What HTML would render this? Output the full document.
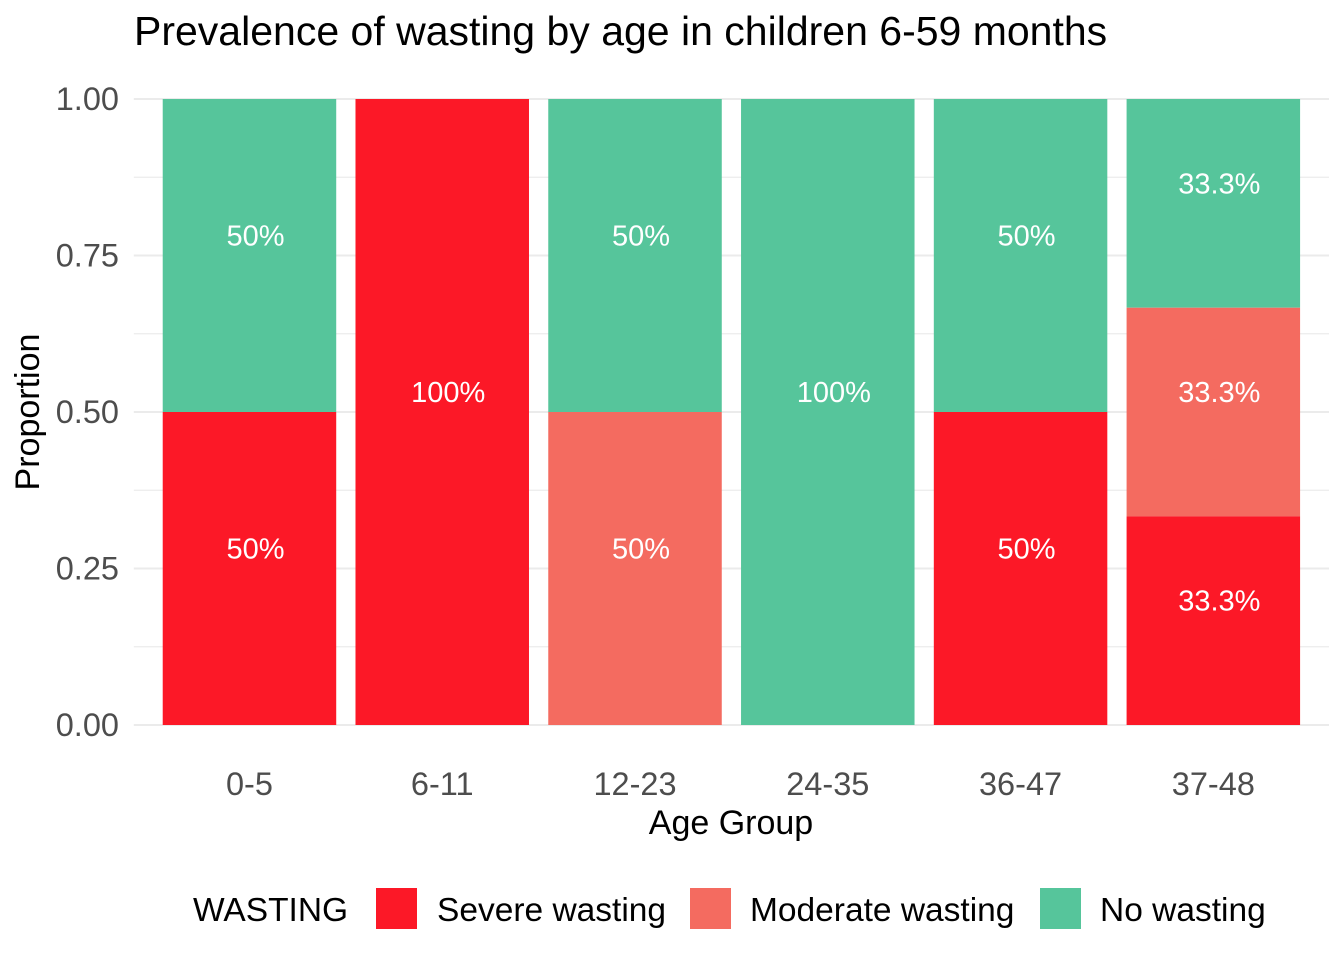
<!DOCTYPE html>
<html><head><meta charset="utf-8"><style>
body{margin:0;background:#fff;}
svg{display:block;font-family:"Liberation Sans",Arial,sans-serif;}
</style></head><body>
<svg id="chart" width="1344" height="960" viewBox="0 0 1344 960">
<text x="134" y="45" font-size="41" fill="#000">Prevalence of wasting by age in children 6-59 months</text>
<g id="grid"></g>
<g id="bars"></g>
<g id="labels"></g>
<g id="axes"></g>
<text x="731" y="834" font-size="34" text-anchor="middle" fill="#000">Age Group</text>
<text transform="translate(39,412) rotate(-90)" font-size="34" text-anchor="middle" fill="#000">Proportion</text>
<g>
<text x="193" y="921" font-size="33.5" fill="#000">WASTING</text>
<rect x="376" y="888" width="41" height="41" fill="#FC1827"/>
<text x="437" y="921" font-size="33.5" fill="#000">Severe wasting</text>
<rect x="690" y="888" width="41" height="41" fill="#F46B60"/>
<text x="750" y="921" font-size="33.5" fill="#000">Moderate wasting</text>
<rect x="1040" y="888" width="41" height="41" fill="#56C59B"/>
<text x="1100" y="921" font-size="33.5" fill="#000">No wasting</text>
</g>
</svg>
<script>
const categories=["0-5","6-11","12-23","24-35","36-47","37-48"];
const severe=[0.5,1,0,0,0.5,0.3333];
const moderate=[0,0,0.5,0,0,0.3333];
const none=[0.5,0,0.5,1,0.5,0.3334];
const yTicks=[0,0.25,0.5,0.75,1];
const yTickLabels=["0.00","0.25","0.50","0.75","1.00"];
const NS="http://www.w3.org/2000/svg";
const left=133.8,right=1329,y0=725,y1=99;
const step=(right-left)/(categories.length+0.2);
const xc=i=>left+step*(0.6+i);
const ys=v=>y0-(y0-y1)*v;
function mk(tag,attrs,parent){const e=document.createElementNS(NS,tag);for(const k in attrs)e.setAttribute(k,attrs[k]);parent.appendChild(e);return e;}
const grid=document.getElementById('grid'),bars=document.getElementById('bars'),labels=document.getElementById('labels'),axes=document.getElementById('axes');
for(let v=0;v<=1.0001;v+=0.125){
  const major=Math.abs(v*4-Math.round(v*4))<1e-6;
  const l=mk('line',{x1:left,x2:right,y1:ys(v),y2:ys(v),stroke:'#EBEBEB','stroke-width':major?2:1.2},grid);
  
  
}
yTicks.forEach((v,i)=>{
  const t=mk('text',{x:119,y:ys(v)+11,'font-size':32.5,'text-anchor':'end',fill:'#4D4D4D'},axes);
  t.textContent=yTickLabels[i];
  
  
});
const series=[[severe,'#FC1827','severe'],[moderate,'#F46B60','moderate'],[none,'#56C59B','none']];
const bw=step*0.9;
categories.forEach((c,i)=>{
  let top=1;
  const order=[series[2],series[1],series[0]];
  order.forEach(([arr,col,nm])=>{
    const v=arr[i];if(v<=0)return;
    const a=top,b=top-v;top=b;
    const r=mk('rect',{x:xc(i)-bw/2,y:ys(a),width:bw,height:ys(b)-ys(a),fill:col},bars);
    
    
    const p=v*100;const txt=Math.abs(p-Math.round(p))<0.05?Math.round(p)+'%':p.toFixed(1)+'%';
    const t=mk('text',{x:xc(i)+6,y:(ys(a)+ys(b))/2-20+10,'font-size':29,'text-anchor':'middle',fill:'#fff'},labels);
    t.textContent=txt;
    
    
  });
  const t=mk('text',{x:xc(i),y:795,'font-size':32.5,'text-anchor':'middle',fill:'#4D4D4D'},axes);
  t.textContent=c;
  
  
});
</script>
</body></html>
